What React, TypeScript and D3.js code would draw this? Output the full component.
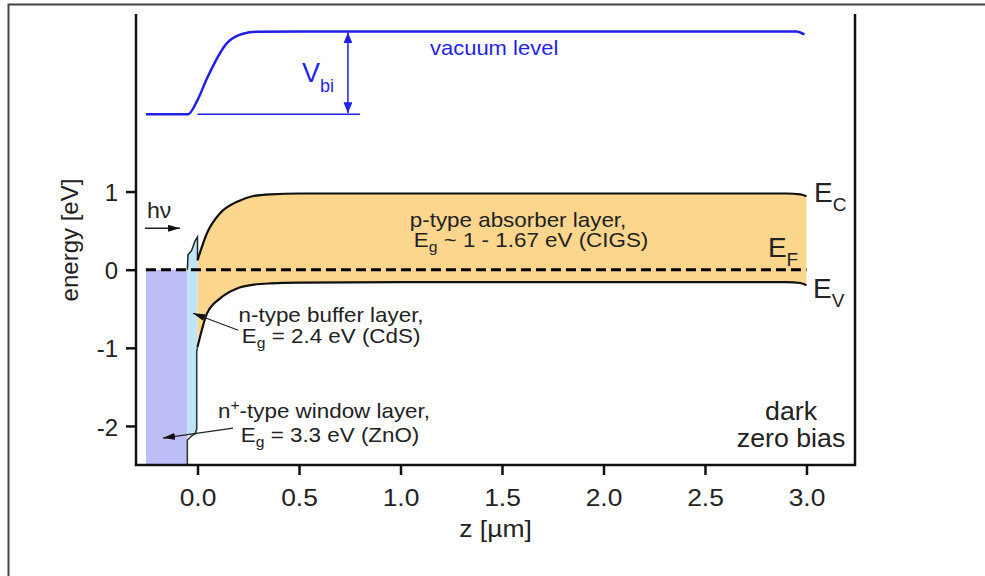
import React, { useRef, useEffect } from 'react';
import * as d3 from 'd3';

// axis ticks
const zTicks = [0, 0.5, 1.0, 1.5, 2.0, 2.5, 3.0];
const energyTicks = [-2, -1, 0, 1];

// CIGS absorber bands (z in um, energy in eV)
const absorberZ = [0, 0.047, 0.11, 0.195, 0.27, 0.36, 0.5, 1.0, 2.0, 2.9, 2.97, 3.0];
const absorberEc = [0.12, 0.47, 0.72, 0.87, 0.94, 0.965, 0.975, 0.975, 0.975, 0.975, 0.965, 0.94];
const absorberEv = [-0.99, -0.56, -0.37, -0.24, -0.195, -0.175, -0.165, -0.16, -0.16, -0.16, -0.17, -0.2];

// CdS buffer: conduction band spike and valence edge
const bufferEc: [number, number][] = [[-0.05, 0.0], [-0.047, 0.19], [-0.03, 0.24], [-0.012, 0.37], [0, 0.42]];
const bufferEv = -2.12;
const valenceOutline: [number, number][] = [[0, -0.99], [-0.004, -1.05], [-0.004, -2.04], [-0.012, -2.1], [-0.03, -2.13], [-0.05, -2.18], [-0.05, -2.5]];

// ZnO window
const windowZ = [-0.254, -0.05];
const windowEc = 0;

// vacuum level
const vacuumLevel: [number, number][] = [[-0.254, 1.99], [-0.047, 1.99], [0, 2.17], [0.047, 2.45], [0.145, 2.9], [0.224, 3.02], [0.293, 3.045], [0.5, 3.05], [1.5, 3.05], [2.95, 3.05], [2.99, 3.01]];
const vbiRefZ = [0, 0.8];
const vbiArrowZ = 0.741;
const vbiLow = 1.99;
const vbiHigh = 3.05;

const fermiZ = [-0.254, 3.0];

type Part = { t: string; sub?: boolean; sup?: boolean };

export default function App() {
    const ref = useRef<SVGSVGElement>(null);

    useEffect(() => {
        if (!ref.current) return;
        const svg = d3.select(ref.current);
        svg.selectAll("*").remove();
        svg.attr("font-family", '"Liberation Sans", Arial, sans-serif');

        const x = d3.scaleLinear().domain([-0.303, 3.239]).range([136, 855]);
        const y = d3.scaleLinear().domain([-2.5, 3.26]).range([465, 15]);

        const addText = (px: number, py: number, parts: Part[] | string, size: number,
            opts: { anchor?: string; sx?: number; fill?: string; subSize?: number; shift?: number } = {}) => {
            const { anchor = "start", sx = 1.1, fill = "#222", subSize = size * 0.7, shift = 5 } = opts;
            const t = svg.append("text")
                .attr("transform", `translate(${px},${py}) scale(${sx},1)`)
                .attr("font-size", size).attr("text-anchor", anchor).attr("fill", fill)
                .style("white-space", "pre");
            const list = typeof parts === "string" ? [{ t: parts }] : parts;
            let cur = 0;
            list.forEach(p => {
                const target = p.sub ? shift : p.sup ? -size * 0.42 : 0;
                t.append("tspan").attr("dy", target - cur)
                    .attr("font-size", p.sub || p.sup ? subSize : size).text(p.t);
                cur = target;
            });
            return t;
        };

        // outer frame
        svg.append("rect").attr("x", 8.5).attr("y", 4.5).attr("width", 1000).attr("height", 600)
            .attr("fill", "none").attr("stroke", "#444").attr("stroke-width", 2);

        const defs = svg.append("defs");
        const marker = (id: string, color: string, w: number, h: number) => defs.append("marker")
            .attr("id", id).attr("viewBox", `0 0 ${w} ${h}`).attr("refX", w).attr("refY", h / 2)
            .attr("markerWidth", w).attr("markerHeight", h).attr("markerUnits", "userSpaceOnUse")
            .attr("orient", "auto-start-reverse")
            .append("path").attr("d", `M0,0 L${w},${h / 2} L0,${h} Z`).attr("fill", color);
        marker("arrowBlack", "#111", 12, 7);
        marker("arrowBlue", "#1f1fe8", 11, 9);

        // ZnO window fill
        svg.append("rect")
            .attr("x", x(windowZ[0])).attr("y", y(windowEc))
            .attr("width", x(windowZ[1]) - x(windowZ[0])).attr("height", y(-2.5) - y(windowEc))
            .attr("fill", "#bdbdf8");

        // CdS buffer fill
        const bufArea = d3.area<[number, number]>()
            .x(d => x(d[0])).y0(y(bufferEv)).y1(d => y(d[1]));
        svg.append("path").datum(bufferEc).attr("d", bufArea).attr("fill", "#bfe6f8");

        // CIGS absorber fill
        const absRows = absorberZ.map((z, i) => ({ z, ec: absorberEc[i], ev: absorberEv[i] }));
        const absArea = d3.area<{ z: number; ec: number; ev: number }>()
            .x(d => x(d.z)).y0(d => y(d.ev)).y1(d => y(d.ec)).curve(d3.curveMonotoneX);
        svg.append("path").datum(absRows).attr("d", absArea).attr("fill", "#fdd68e");

        // band edges
        const lin = d3.line<[number, number]>().x(d => x(d[0])).y(d => y(d[1]));
        const mono = d3.line<[number, number]>().x(d => x(d[0])).y(d => y(d[1])).curve(d3.curveMonotoneX);
        svg.append("path").datum([...bufferEc, [0, absorberEc[0]]] as [number, number][]).attr("d", lin)
            .attr("fill", "none").attr("stroke", "#222").attr("stroke-width", 1.5);
        svg.append("path").datum(valenceOutline).attr("d", lin)
            .attr("fill", "none").attr("stroke", "#333").attr("stroke-width", 1.5);
        svg.append("path").datum(absorberZ.map((z, i) => [z, absorberEc[i]] as [number, number])).attr("d", mono)
            .attr("fill", "none").attr("stroke", "#111").attr("stroke-width", 2.2);
        svg.append("path").datum(absorberZ.map((z, i) => [z, absorberEv[i]] as [number, number])).attr("d", mono)
            .attr("fill", "none").attr("stroke", "#111").attr("stroke-width", 2.2);

        // Fermi level
        svg.append("line")
            .attr("x1", x(fermiZ[0])).attr("x2", x(fermiZ[1])).attr("y1", y(0)).attr("y2", y(0))
            .attr("stroke", "#000").attr("stroke-width", 3).attr("stroke-dasharray", "10 5");

        // vacuum level
        svg.append("path").datum(vacuumLevel).attr("d", mono)
            .attr("fill", "none").attr("stroke", "#1f1fe8").attr("stroke-width", 2.5);
        svg.append("line")
            .attr("x1", x(vbiRefZ[0])).attr("x2", x(vbiRefZ[1])).attr("y1", y(vbiLow)).attr("y2", y(vbiLow))
            .attr("stroke", "#1f1fe8").attr("stroke-width", 1.5);
        svg.append("line")
            .attr("x1", x(vbiArrowZ)).attr("x2", x(vbiArrowZ)).attr("y1", y(vbiHigh) + 1).attr("y2", y(vbiLow) - 1)
            .attr("stroke", "#1f1fe8").attr("stroke-width", 1.5)
            .attr("marker-start", "url(#arrowBlue)").attr("marker-end", "url(#arrowBlue)");

        // axes
        const xAxis = svg.append("g").attr("transform", `translate(0,${y(-2.5)})`)
            .call(d3.axisBottom(x).tickValues(zTicks).tickSize(10).tickPadding(14).tickFormat(d3.format(".1f") as any));
        xAxis.select(".domain").remove();
        xAxis.selectAll(".tick line").attr("stroke", "#111").attr("stroke-width", 2.5);
        xAxis.selectAll("text").attr("font-size", 24).attr("fill", "#222")
            .attr("font-family", '"Liberation Sans", Arial, sans-serif').attr("transform", "scale(1.1,1)");

        const yAxis = svg.append("g").attr("transform", `translate(${x.range()[0]},0)`)
            .call(d3.axisLeft(y).tickValues(energyTicks).tickSize(10).tickPadding(8).tickFormat(d => String(d)));
        yAxis.select(".domain").remove();
        yAxis.selectAll(".tick line").attr("stroke", "#111").attr("stroke-width", 2.5);
        yAxis.selectAll("text").attr("font-size", 24).attr("fill", "#222").attr("dy", "0.38em")
            .attr("font-family", '"Liberation Sans", Arial, sans-serif');

        const [x0, x1] = x.range();
        const frame = d3.path();
        frame.moveTo(x0, 14); frame.lineTo(x0, y(-2.5)); frame.lineTo(x1, y(-2.5)); frame.lineTo(x1, 14);
        svg.append("path").attr("d", frame.toString()).attr("fill", "none")
            .attr("stroke", "#111").attr("stroke-width", 2.5);

        // axis titles
        addText((x0 + x1) / 2, 537, "z [\u00b5m]", 23, { anchor: "middle", sx: 1.15 });
        svg.append("text").attr("transform", `translate(78,${(y.range()[0] + y.range()[1]) / 2}) rotate(-90)`)
            .attr("font-size", 24).attr("text-anchor", "middle").attr("fill", "#222")
            .text("energy [eV]");

        // annotations
        addText(x(1.579), y(0.547), "p-type absorber layer,", 20, { anchor: "middle", sx: 1.12 });
        addText(x(1.643), y(0.29), [{ t: "E" }, { t: "g", sub: true }, { t: " ~ 1 - 1.67 eV (CIGS)" }], 20,
            { anchor: "middle", sx: 1.12, subSize: 14, shift: 5 });

        addText(x(0.658), y(-0.67), "n-type buffer layer,", 20, { anchor: "middle", sx: 1.12 });
        addText(x(0.658), y(-0.94), [{ t: "E" }, { t: "g", sub: true }, { t: " = 2.4 eV (CdS)" }], 20,
            { anchor: "middle", sx: 1.12, subSize: 14, shift: 5 });
        addText(x(0.623), y(-1.9), [{ t: "n" }, { t: "+", sup: true }, { t: "-type window layer," }], 20,
            { anchor: "middle", sx: 1.12, subSize: 14 });
        addText(x(0.653), y(-2.206), [{ t: "E" }, { t: "g", sub: true }, { t: " = 3.3 eV (ZnO)" }], 20,
            { anchor: "middle", sx: 1.12, subSize: 14, shift: 5 });

        const arrow = (z0: number, e0: number, z1: number, e1: number, width = 1.2) =>
            svg.append("line").attr("x1", x(z0)).attr("y1", y(e0)).attr("x2", x(z1)).attr("y2", y(e1))
                .attr("stroke", "#222").attr("stroke-width", width).attr("marker-end", "url(#arrowBlack)");
        arrow(0.201, -0.776, -0.022, -0.558);
        arrow(0.175, -2.027, -0.17, -2.155);
        arrow(-0.259, 0.53, -0.086, 0.53, 1.5);

        addText(x(-0.249), y(0.662), "h\u03bd", 22, { sx: 1.05 });

        // band labels
        addText(x(3.037), y(0.867), [{ t: "E" }, { t: "C", sub: true }], 28, { sx: 1, subSize: 19, shift: 9 });
        addText(x(2.81), y(0.163), [{ t: "E" }, { t: "F", sub: true }], 28, { sx: 1, subSize: 19, shift: 9 });
        addText(x(3.032), y(-0.363), [{ t: "E" }, { t: "V", sub: true }], 28, { sx: 1, subSize: 19, shift: 9 });

        addText(x(2.924), y(-1.925), "dark", 25, { anchor: "middle", sx: 1.07 });
        addText(x(2.924), y(-2.27), "zero bias", 25, { anchor: "middle", sx: 1.07 });

        // vacuum labels
        addText(x(1.145), y(2.75), "vacuum level", 20, { fill: "#1f1fe8", sx: 1.1 });
        addText(x(0.515), y(2.4), [{ t: "V" }, { t: "bi", sub: true }], 27,
            { fill: "#1f1fe8", sx: 1, subSize: 18, shift: 10 });
    }, []);

    return (
        <svg ref={ref} width={985} height={576}
            style={{ position: 'absolute', left: 0, top: 0, background: '#fff' }} />
    );
}
